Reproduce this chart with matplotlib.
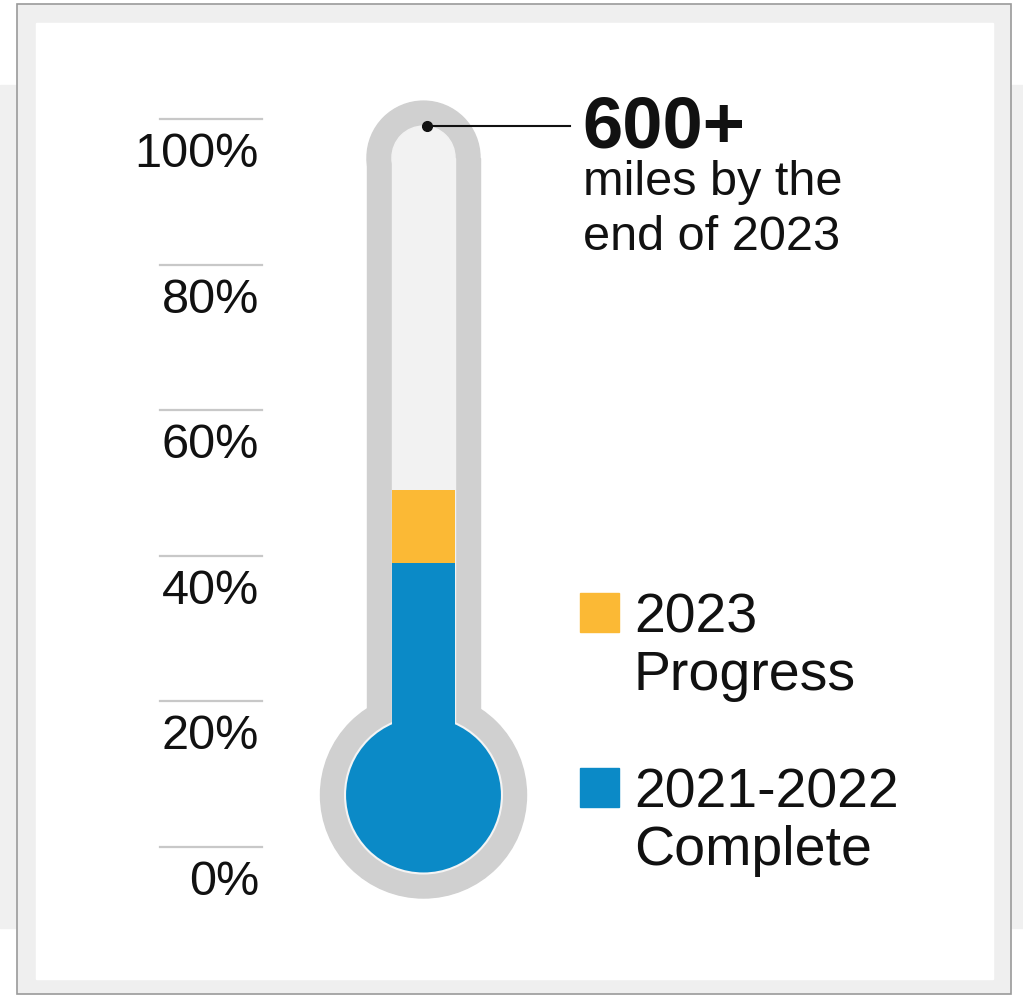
import matplotlib
matplotlib.use("Agg")
import matplotlib.pyplot as plt
import matplotlib.transforms as mtransforms
from matplotlib.patches import Circle, Rectangle

plt.rcParams["font.family"] = ["Liberation Sans", "DejaVu Sans"]

# data
TICKS = [0, 20, 40, 60, 80, 100]
TICK_LABELS = ["0%", "20%", "40%", "60%", "80%", "100%"]
SERIES = ["2021-2022\nComplete", "2023\nProgress"]
VALUES = [39, 10]
COLORS = ["#0b8ac7", "#fbb935"]
GOAL_VALUE = "600+"
GOAL_TEXT = "miles by the\nend of 2023"

W, H = 1023, 996
PX = 7.28          # pixels per percent point
Y0_PX = 847        # pixel row of 0%
XC_PX = 423.5      # thermometer centre column

fig = plt.figure(figsize=(W / 100, H / 100), dpi=100)
fig.patch.set_facecolor("white")
ax = fig.add_axes([0, 0, 1, 1])
ax.set_xlim(-XC_PX / PX, (W - XC_PX) / PX)
ax.set_ylim(-(H - Y0_PX) / PX, Y0_PX / PX)
ax.axis("off")

# pixel transform (origin top-left) for the card frame
px = mtransforms.Affine2D().scale(1 / W, -1 / H).translate(0, 1) + fig.transFigure

def prect(x0, y0, x1, y1, **kw):
    r = Rectangle((x0, y0), x1 - x0, y1 - y0, transform=px, clip_on=False, **kw)
    ax.add_patch(r)

prect(0, 85, 17, 928, color="#f0f0f0", zorder=0)
prect(1011, 85, W, 928, color="#f0f0f0", zorder=0)
prect(17, 4, 1011, 994, facecolor="#efefef", edgecolor="#9a9a9a", lw=1.2, zorder=0.5)
prect(36, 23, 993, 979, color="white", zorder=0.6)

# thermometer shell
bulb_y = 7.14
top_y = 94.7
r_out, r_in = 7.76, 4.33
R_out, R_in = 14.15, 10.78
shell = "#d0d0d0"
tube = "#f2f2f2"
ax.add_patch(Circle((0, bulb_y), R_out, color=shell, zorder=2))
ax.add_patch(Rectangle((-r_out, bulb_y), 2 * r_out, top_y - bulb_y, color=shell, zorder=2))
ax.add_patch(Circle((0, top_y), r_out, color=shell, zorder=2))
ax.add_patch(Rectangle((-r_in, bulb_y), 2 * r_in, top_y - bulb_y, color=tube, zorder=3))
ax.add_patch(Circle((0, top_y), r_in, color=tube, zorder=3))
ax.add_patch(Circle((0, bulb_y), R_in, facecolor=COLORS[0], edgecolor="#f4f4f4",
                    lw=1.5, zorder=4))

# stacked fill
bottom = 0
for v, c in zip(VALUES, COLORS):
    ax.bar(0, v, bottom=bottom, width=2 * r_in, color=c, linewidth=0, zorder=5)
    bottom += v

# scale lines and labels
x_l0 = (160 - XC_PX) / PX
x_l1 = (262 - XC_PX) / PX
x_lab = (259 - XC_PX) / PX
for t, lab in zip(TICKS, TICK_LABELS):
    ax.plot([x_l0, x_l1], [t, t], color="#c8c8c8", lw=1.6, zorder=2)
    ax.text(x_lab, t - 6.6, lab, ha="right", va="baseline", fontsize=35,
            color="#111111", zorder=6)

# goal callout
x_txt = (582 - XC_PX) / PX
ax.plot([0.5, (570 - XC_PX) / PX], [99.0, 99.0], color="#111111", lw=1.5, zorder=6)
ax.plot([0.5], [99.0], "o", color="#111111", ms=7, zorder=7)
ax.text(x_txt, (Y0_PX - 148) / PX, GOAL_VALUE, ha="left", va="baseline",
        fontsize=52, fontweight="bold", color="#111111", zorder=6)
for i, line in enumerate(GOAL_TEXT.split("\n")):
    ax.text(x_txt + 0.15, (Y0_PX - 195 - 55 * i) / PX, line, ha="left",
            va="baseline", fontsize=35, color="#111111", zorder=6)

# legend
sq = 39 / PX
x_sq = (580 - XC_PX) / PX
x_lt = (634 - XC_PX) / PX
for lab, c, top_px in [(SERIES[1], COLORS[1], 593), (SERIES[0], COLORS[0], 768)]:
    y_top = (Y0_PX - top_px) / PX
    ax.add_patch(Rectangle((x_sq, y_top - sq), sq, sq, color=c, zorder=6))
    for i, line in enumerate(lab.split("\n")):
        ax.text(x_lt, y_top - sq - 0.1 - 57.5 * i / PX, line, ha="left",
                va="baseline", fontsize=40, color="#111111", zorder=6)

fig.savefig("out.png", dpi=100, facecolor=fig.get_facecolor())
